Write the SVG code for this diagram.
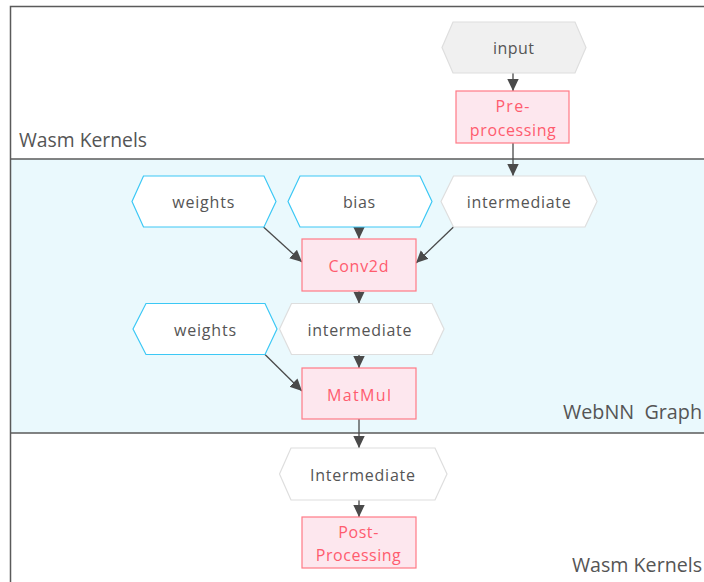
<svg xmlns="http://www.w3.org/2000/svg" width="704" height="582" viewBox="0 0 704 582">
  <style>
    .frame { stroke: #5a5a5a; stroke-width: 1.5; fill: none; }
    .lane { font-family: "Open Sans", "Liberation Sans", sans-serif; font-size: 20px; fill: #555555; }
    .lbl { font-family: "Open Sans", "Liberation Sans", sans-serif; font-size: 16px; fill: #555555; text-anchor: middle; }
    .op-lbl { font-family: "Open Sans", "Liberation Sans", sans-serif; font-size: 16px; fill: #ff5c6e; text-anchor: middle; }
    .data { fill: #ffffff; stroke: #dedede; stroke-width: 1.2; }
    .src { fill: #f0f0f0; stroke: #dedede; stroke-width: 1.2; }
    .const { fill: #ffffff; stroke: #3cc8f5; stroke-width: 1.2; }
    .op { fill: #fde7ee; stroke: #ff7a86; stroke-width: 1.2; }
    .edge { stroke: #4a4a4a; stroke-width: 1.3; fill: none; marker-end: url(#arrow); }
  </style>
  <defs>
    <marker id="arrow" markerUnits="userSpaceOnUse" markerWidth="13" markerHeight="13" viewBox="0 0 13 13" refX="12" refY="6.5" orient="auto">
      <path d="M0,0.8 L12,6.5 L0,12.2 Z" fill="#4a4a4a"/>
    </marker>
  </defs>

  <!-- swimlane background and borders -->
  <rect x="11" y="159" width="693" height="274" fill="#eaf9fd"/>
  <path class="frame" d="M10.5,582 V6.5 H704"/>
  <line class="frame" x1="10.5" y1="159" x2="704" y2="159"/>
  <line class="frame" x1="10.5" y1="433" x2="704" y2="433"/>

  <text class="lane" x="19" y="147" textLength="128" lengthAdjust="spacingAndGlyphs">Wasm Kernels</text>
  <text class="lane" x="563" y="418.5" textLength="139" lengthAdjust="spacingAndGlyphs" xml:space="preserve">WebNN  Graph</text>
  <text class="lane" x="572" y="572" textLength="130" lengthAdjust="spacingAndGlyphs">Wasm Kernels</text>

  <!-- connectors -->
  <g id="edges">
    <line class="edge" x1="513" y1="73" x2="513" y2="91"/>
    <line class="edge" x1="513" y1="143" x2="513" y2="176"/>
    <line class="edge" x1="263.5" y1="227" x2="302" y2="262"/>
    <line class="edge" x1="359" y1="227" x2="359" y2="239"/>
    <line class="edge" x1="453.5" y1="227" x2="416" y2="263"/>
    <line class="edge" x1="359" y1="291" x2="359" y2="303.5"/>
    <line class="edge" x1="265" y1="354.5" x2="302" y2="391"/>
    <line class="edge" x1="359" y1="354.5" x2="359" y2="368"/>
    <line class="edge" x1="359" y1="419" x2="359" y2="448"/>
    <line class="edge" x1="359" y1="500" x2="359" y2="517"/>
  </g>

  <!-- nodes -->
  <g id="input">
    <polygon class="src" points="442,47.5 453,22 575,22 586,47.5 575,73 453,73"/>
    <text class="lbl" x="513.5" y="54" textLength="41">input</text>
  </g>
  <g id="preprocessing">
    <rect class="op" x="456" y="91" width="113" height="52"/>
    <text class="op-lbl" x="512.5" y="111.5" textLength="34">Pre-</text>
    <text class="op-lbl" x="512.8" y="135.5" textLength="86">processing</text>
  </g>
  <g id="weights-conv">
    <polygon class="const" points="132,201.5 143.5,176 264,176 276,201.5 264,227 143.5,227"/>
    <text class="lbl" x="203.3" y="207.7" textLength="62">weights</text>
  </g>
  <g id="bias">
    <polygon class="const" points="288,201.5 300,176 420,176 432,201.5 420,227 300,227"/>
    <text class="lbl" x="359" y="207.7" textLength="32">bias</text>
  </g>
  <g id="intermediate-pre">
    <polygon class="data" points="441,201.5 453.5,176 585,176 597,201.5 585,227 453.5,227"/>
    <text class="lbl" x="518.7" y="207.7" textLength="104">intermediate</text>
  </g>
  <g id="conv2d">
    <rect class="op" x="302" y="239" width="114" height="52"/>
    <text class="op-lbl" x="358.5" y="271.5" textLength="60">Conv2d</text>
  </g>
  <g id="weights-matmul">
    <polygon class="const" points="133,329 146,303.5 265,303.5 277,329 265,354.5 146,354.5"/>
    <text class="lbl" x="205" y="335.7" textLength="62">weights</text>
  </g>
  <g id="intermediate-conv">
    <polygon class="data" points="279.5,329 291.5,303.5 432,303.5 444,329 432,354.5 291.5,354.5"/>
    <text class="lbl" x="359.5" y="335.7" textLength="104">intermediate</text>
  </g>
  <g id="matmul">
    <rect class="op" x="302" y="368" width="114" height="51"/>
    <text class="op-lbl" x="359" y="401" textLength="64">MatMul</text>
  </g>
  <g id="intermediate-matmul">
    <polygon class="data" points="279.5,474 291,448 435,448 447,474 435,500 291,500"/>
    <text class="lbl" x="362.5" y="481" textLength="105">Intermediate</text>
  </g>
  <g id="postprocessing">
    <rect class="op" x="302" y="517" width="114" height="51"/>
    <text class="op-lbl" x="358.3" y="537.7" textLength="40">Post-</text>
    <text class="op-lbl" x="358.3" y="560.7" textLength="85">Processing</text>
  </g>
</svg>
